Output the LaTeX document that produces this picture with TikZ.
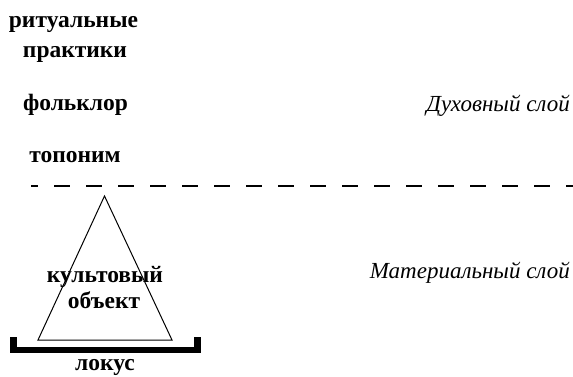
\documentclass[tikz,border=0pt]{standalone}
\usepackage{fontspec}
\setmainfont{Liberation Serif}
\begin{document}
\begin{tikzpicture}[x=1pt,y=-1pt,
  lbl/.style={font=\fontsize{23.5}{28}\selectfont\bfseries, inner sep=0pt, anchor=base},
  layer/.style={font=\fontsize{23}{28}\selectfont\itshape, inner sep=0pt, anchor=base east}]
\useasboundingbox (0,0) rectangle (573,376);
\node[lbl] (rit) at (73.5,27) {ритуальные};
\node[lbl] (prak) at (75,57) {практики};
\node[lbl] (folk) at (75.5,110) {фольклор};
\node[lbl] (topo) at (75,162) {топоним};
\node[layer] (dukh) at (570,111) {Духовный слой};
\node[layer] (mat) at (570,278) {Материальный слой};
\coordinate (dl) at (31,186);
\coordinate (dr) at (573,186);
\draw[line width=2pt, dash pattern=on 16pt off 16pt, dash phase=9pt] (dl) -- (dr);
\coordinate (apex) at (104.5,196);
\coordinate (bl) at (38,340);
\coordinate (br) at (172,340);
\draw[line width=1pt, line join=miter] (apex) -- (bl) -- (br) -- cycle;
\node[lbl] (kult) at (105,282) {культовый};
\node[lbl] (obj) at (104,308) {объект};
\draw[line width=6.5pt, line join=miter] (13.5,337) -- (13.5,350) -- (197.5,350) -- (197.5,337);
\node[lbl] (lok) at (105,370) {локус};
\end{tikzpicture}
\end{document}
